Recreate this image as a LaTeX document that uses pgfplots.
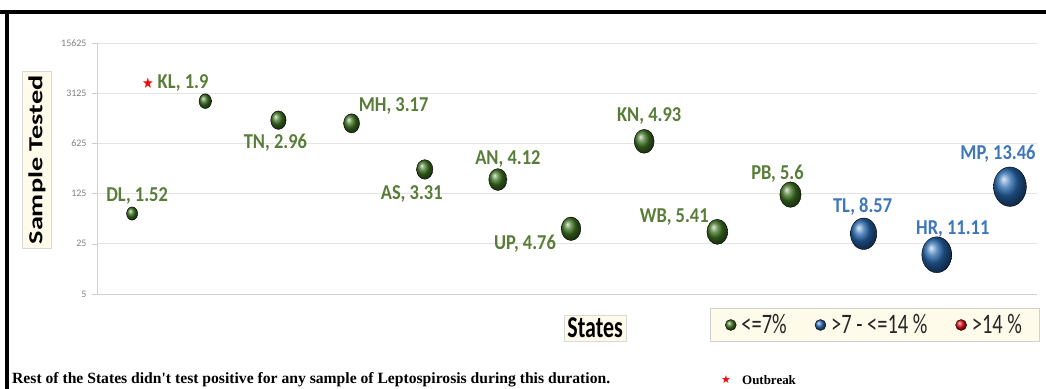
\documentclass[border=0pt]{standalone}
\usepackage{pgfplots}
\pgfplotsset{compat=1.18}
\usepackage{pgfplotstable}
\usepackage{graphicx}
\usepackage{fontspec}
\setmainfont{Carlito}
\newfontfamily\serif{Liberation Serif}
\newfontfamily\sym{DejaVu Sans}
\definecolor{gball}{RGB}{62,115,34}
\definecolor{bball}{RGB}{38,102,172}
\definecolor{rball}{RGB}{230,10,25}
\definecolor{gtext}{RGB}{88,125,56}
\definecolor{btext}{RGB}{62,118,188}
\definecolor{cream}{RGB}{254,251,234}
\newcommand\vs[1]{\scalebox{1}[1.38]{#1}}
\newcommand\ls[1]{\scalebox{1}[1.15]{#1}}

\pgfplotstableread[col sep=semicolon]{
x;y;pct;dx;dy;lab
1;66;1.52;5;18;DL, 1.52
3;1317;2.96;-3;-23;TN, 2.96
4;1189;3.17;42;17;MH, 3.17
5;271;3.31;-13;-25;AS, 3.31
6;196;4.12;10;21;AN, 4.12
7;40.5;4.76;-46;-15;UP, 4.76
8;668;4.93;5;25;KN, 4.93
9;36.7;5.41;-43;15;WB, 5.41
10;121;5.6;-13;21;PB, 5.6
}\greendata
\pgfplotstableread[col sep=semicolon]{
x;y;pct;dx;dy;lab
2;2420;1.9;-30;18;KL, 1.9
}\outbreakdata
\pgfplotstableread[col sep=semicolon]{
x;y;pct;dx;dy;lab
11;34.5;8.57;-1;27;TL, 8.57
12;17.6;11.11;16;26;HR, 11.11
13;156;13.46;-12;33;MP, 13.46
}\bluedata

\pgfplotsset{
  bubbles/.style={forget plot, only marks, mark=ball,
    mark options={ball color=#1, yscale=1.2},
    point meta=explicit symbolic,
    visualization depends on={4.5*sqrt(\thisrow{pct})\as\rad},
    visualization depends on={\thisrow{dx}\as\ddx},
    visualization depends on={\thisrow{dy}\as\ddy},
    scatter/@pre marker code/.append style={/tikz/mark size=\rad},
  },
}

\begin{document}
\begin{tikzpicture}
\useasboundingbox (-97bp,-95bp) rectangle (949bp,294bp);
\draw[line width=4bp] (-97bp,282bp) -- (949bp,282bp);
\draw[line width=4bp] (-90bp,284bp) -- (-90bp,-95bp);
\begin{axis}[
  at={(0,0)}, anchor=south west,
  scale only axis, width=940bp, height=251bp,
  xmin=0.52, xmax=13.37,
  ymode=log, log basis y=5, ymin=5, ymax=15625,
  ytick={5,25,125,625,3125,15625},
  yticklabels={5,25,125,625,3125,15625},
  xtick=\empty,
  ymajorgrids, grid style={draw=gray!22, line width=0.8bp},
  axis x line*=bottom, axis y line*=left,
  axis line style={-, draw=gray!35},
  tick align=outside, major tick length=5bp, tick style={draw=gray!40},
  yticklabel style={font=\fontsize{10}{10}\selectfont, text=gray, xshift=-2bp},
  clip=false,
  ylabel={\scalebox{1.42}[1]{Sample Tested}},
  ylabel style={at={(axis description cs:-0.064,0.534)}, anchor=center, fill=cream, draw=gray!30, font=\bfseries\fontsize{20}{20}\selectfont, inner xsep=4bp, inner ysep=6bp},
  xlabel={\vs{States}},
  xlabel style={at={(axis description cs:0.530,-0.135)}, anchor=center, fill=cream, draw=gray!30, font=\bfseries\fontsize{22}{22}\selectfont, inner xsep=3bp, inner ysep=3bp},
  legend columns=3,
  legend image code/.code={\draw[#1] plot coordinates {(0bp,0bp)};},
  legend style={at={(axis description cs:0.652,-0.1235)}, anchor=west, fill=cream, draw=gray!35,
    font=\fontsize{20.5}{20.5}\selectfont, text=black!85, inner xsep=15bp, inner ysep=4bp,
    nodes={inner xsep=2bp},
    /tikz/every odd column/.append style={column sep=3bp},
    /tikz/every even column/.append style={column sep=26bp}},
  legend cell align=left,
]
\addlegendimage{only marks, mark=ball, mark size=5.5bp, mark options={ball color=gball}}
\addlegendentry{\vs{<=7\%}}
\addlegendimage{only marks, mark=ball, mark size=5.5bp, mark options={ball color=bball}}
\addlegendentry{\vs{>7 - <=14 \%}}
\addlegendimage{only marks, mark=ball, mark size=5.5bp, mark options={ball color=rball}}
\addlegendentry{\vs{>14 \%}}

\addplot[
  nodes near coords={\ls{\pgfplotspointmeta}},
  bubbles=gball,
  every node near coord/.append style={anchor=center, xshift=\ddx bp, yshift=\ddy bp, text=gtext, font=\bfseries\fontsize{18.5}{18.5}\selectfont, inner sep=0pt},
] table[x=x, y=y, meta=lab] {\greendata};
\addplot[
  nodes near coords={\ls{{\color{red}\sym\fontsize{13}{13}\selectfont ★}\hspace{4bp}\pgfplotspointmeta}},
  bubbles=gball,
  every node near coord/.append style={anchor=center, xshift=\ddx bp, yshift=\ddy bp, text=gtext, font=\bfseries\fontsize{18.5}{18.5}\selectfont, inner sep=0pt},
] table[x=x, y=y, meta=lab] {\outbreakdata};
\addplot[
  nodes near coords={\ls{\pgfplotspointmeta}},
  bubbles=bball,
  every node near coord/.append style={anchor=center, xshift=\ddx bp, yshift=\ddy bp, text=btext, font=\bfseries\fontsize{18.5}{18.5}\selectfont, inner sep=0pt},
] table[x=x, y=y, meta=lab] {\bluedata};
\end{axis}
\node[anchor=west, inner sep=0pt] at (-85bp,-86bp) {\resizebox{598bp}{!}{\serif\bfseries Rest of the States didn't test positive for any sample of Leptospirosis during this duration.}};
\node[inner sep=0pt, text=red] at (629bp,-86bp) {\sym\fontsize{11}{11}\selectfont ★};
\node[anchor=west, inner sep=0pt] at (645bp,-86bp) {\serif\bfseries\fontsize{13}{13}\selectfont Outbreak};
\end{tikzpicture}
\end{document}
